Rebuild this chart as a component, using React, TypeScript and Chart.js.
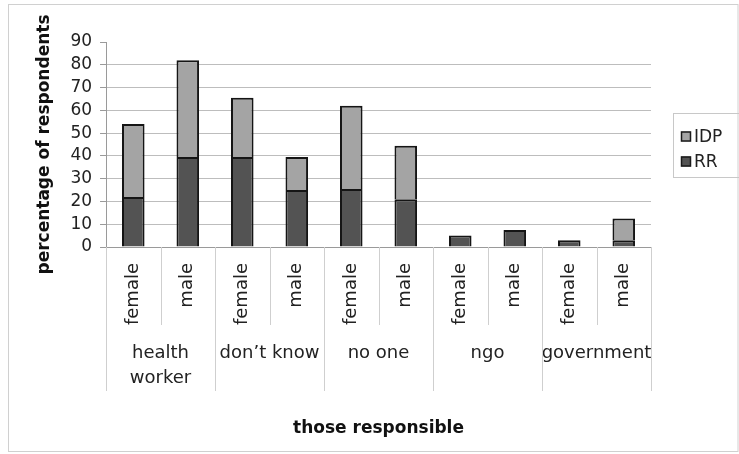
import { useEffect, useRef } from "react";
import { Chart, registerables } from "chart.js";

Chart.register(...registerables);

const subCategories = ["female", "male", "female", "male", "female", "male", "female", "male", "female", "male"];
const groupLabels = [["health", "worker"], ["don\u2019t know"], ["no one"], ["ngo"], ["government"]];
const rrValues = [22, 39.5, 39.5, 25, 25.5, 21, 5, 7.5, 3, 3];
const idpValues = [32, 42.5, 26, 14.5, 36.5, 23.5, 0, 0, 0, 9.5];
const seriesNames = ["RR", "IDP"];
const seriesColors = ["#535353", "#a4a4a4"];
const yMin = 0;
const yMax = 90;
const yStep = 10;

const FONT = "'DejaVu Sans', 'Liberation Sans', Arial, sans-serif";

const decorPlugin = {
  id: "decor",
  beforeDraw(chart: any) {
    const { ctx, width, height } = chart;
    ctx.save();
    ctx.fillStyle = "#ffffff";
    ctx.fillRect(0, 0, width, height);
    ctx.strokeStyle = "#d0d0d0";
    ctx.lineWidth = 1;
    ctx.strokeRect(8.5, 4.5, 729.5, 447);
    ctx.restore();
  },
  afterDraw(chart: any) {
    const { ctx, chartArea, scales } = chart;
    const xs = scales.x;
    const n = subCategories.length;
    const per = n / groupLabels.length;
    const p0 = xs.getPixelForValue(0);
    const p1 = xs.getPixelForValue(1);
    const step = p1 - p0;
    ctx.save();
    ctx.strokeStyle = "#cfcfcf";
    ctx.lineWidth = 1;
    for (let i = 0; i <= n; i++) {
      const bx = Math.round(p0 - step / 2 + i * step) + 0.5;
      const yEnd = i % per === 0 ? xs.bottom + 66 : xs.bottom;
      ctx.beginPath();
      ctx.moveTo(bx, chartArea.bottom);
      ctx.lineTo(bx, yEnd);
      ctx.stroke();
    }
    // legend
    const lx = chartArea.right + 22;
    const cy = (chartArea.top + chartArea.bottom) / 2;
    const ly = cy - 32;
    ctx.strokeStyle = "#c8c8c8";
    ctx.strokeRect(Math.round(lx) + 0.5, Math.round(ly) + 0.5, 66, 64);
    ctx.font = `17px ${FONT}`;
    ctx.textBaseline = "middle";
    ctx.textAlign = "left";
    const order = chart.data.datasets.map((_: any, i: number) => i).reverse();
    order.forEach((di: number, row: number) => {
      const ds = chart.data.datasets[di];
      const ry = ly + 24 + row * 25;
      ctx.fillStyle = ds.backgroundColor;
      ctx.fillRect(lx + 8, ry - 5, 10, 10);
      ctx.strokeStyle = "#1a1a1a";
      ctx.lineWidth = 1.5;
      ctx.strokeRect(lx + 8.5, ry - 4.5, 9, 9);
      ctx.fillStyle = "#222";
      ctx.fillText(ds.label, lx + 21, ry + 1);
    });
    ctx.restore();
  },
};

export default function App() {
  const ref = useRef<HTMLCanvasElement | null>(null);
  useEffect(() => {
    if (!ref.current) return;
    const chart = new Chart(ref.current, {
      type: "bar",
      data: {
        labels: subCategories,
        datasets: [
          {
            label: seriesNames[0],
            data: rrValues,
            backgroundColor: seriesColors[0],
            borderColor: "#151515",
            borderWidth: 2,
            barPercentage: 0.414,
            categoryPercentage: 1,
          },
          {
            label: seriesNames[1],
            data: idpValues,
            backgroundColor: seriesColors[1],
            borderColor: "#151515",
            borderWidth: 2,
            barPercentage: 0.414,
            categoryPercentage: 1,
          },
        ],
      },
      options: {
        animation: false,
        responsive: false,
        layout: { padding: { left: 13, right: 88, top: 42, bottom: 13 } },
        plugins: { legend: { display: false }, tooltip: { enabled: false } },
        scales: {
          x: {
            stacked: true,
            grid: { display: false, drawTicks: false },
            border: { display: true, color: "#9a9a9a" },
            ticks: {
              autoSkip: false,
              maxRotation: 90,
              minRotation: 90,
              padding: 16,
              color: "#222",
              font: { family: FONT, size: 18 },
            },
            afterFit: (s: any) => {
              s.height = 78;
            },
          },
          x2: {
            type: "category",
            labels: groupLabels as any,
            offset: true,
            position: "bottom",
            grid: { display: false, drawTicks: false },
            border: { display: false },
            ticks: {
              autoSkip: false,
              maxRotation: 0,
              minRotation: 0,
              padding: 16,
              color: "#222",
              font: { family: FONT, size: 18, lineHeight: 1.4 },
            },
            title: {
              display: true,
              text: "those responsible",
              color: "#111",
              font: { family: FONT, size: 17, weight: "bold" },
              padding: { top: 27, bottom: 2 },
            },
            afterFit: (s: any) => {
              s.height = 116;
            },
          },
          y: {
            stacked: true,
            min: yMin,
            max: yMax,
            ticks: {
              stepSize: yStep,
              autoSkip: false,
              padding: 8,
              color: "#222",
              font: { family: FONT, size: 17 },
            },
            grid: {
              color: (c: any) =>
                c.tick && c.tick.value === yMax ? "rgba(0,0,0,0)" : c.tick && c.tick.value === yMin ? "#9a9a9a" : "#bdbdbd",
              tickColor: "#9a9a9a",
              tickLength: 6,
              lineWidth: 1,
            },
            border: { display: true, color: "#9a9a9a" },
            title: {
              display: true,
              text: "percentage of respondents",
              color: "#111",
              font: { family: FONT, size: 17, weight: "bold" },
              padding: { top: 21, bottom: 8 },
            },
          },
        },
      },
      plugins: [decorPlugin],
    } as any);
    return () => chart.destroy();
  }, []);
  return (
    <div style={{ position: "absolute", left: 0, top: 0, width: 739, height: 454 }}>
      <canvas ref={ref} width={739} height={454} style={{ display: "block" }} />
    </div>
  );
}
